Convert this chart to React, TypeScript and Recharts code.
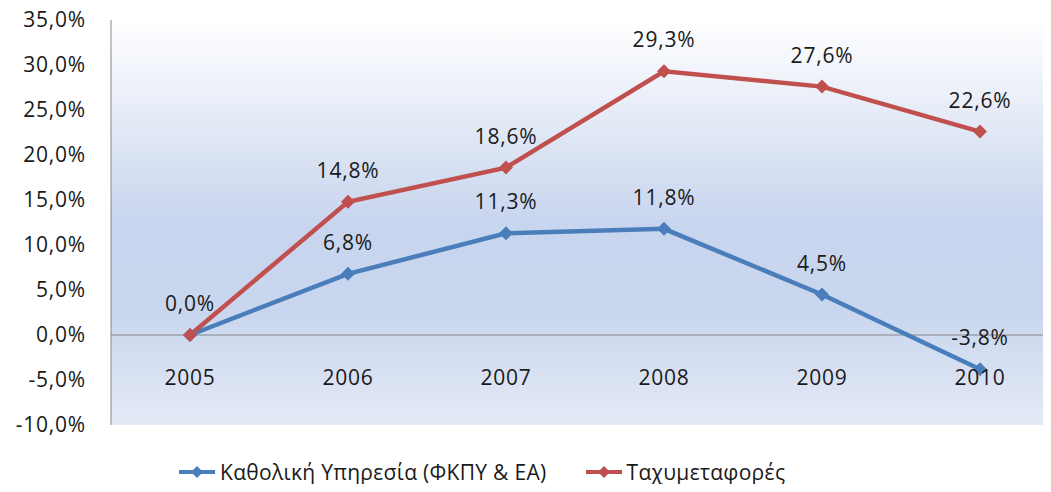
import React from "react";
import {
  LineChart,
  Line,
  XAxis,
  YAxis,
  CartesianGrid,
  ReferenceLine,
  LabelList,
  Legend,
} from "recharts";

const years = ["2005", "2006", "2007", "2008", "2009", "2010"];
const universalService = [0.0, 6.8, 11.3, 11.8, 4.5, -3.8];
const courier = [0.0, 14.8, 18.6, 29.3, 27.6, 22.6];
const yTicks = [-10, -5, 0, 5, 10, 15, 20, 25, 30, 35];

const BLUE_NAME = "Καθολική Υπηρεσία (ΦΚΠΥ & ΕΑ)";
const RED_NAME = "Ταχυμεταφορές";
const BLUE = "#4a7ebb";
const RED = "#c0504d";
const FONT = "'Open Sans', sans-serif";
const FS = 21;
const LS = 0.8;

const data = years.map((year, i) => ({
  year,
  blue: universalService[i],
  red: courier[i],
}));

const fmt = (v: number) => `${v.toFixed(1).replace(".", ",")}%`;

function Diamond(props: any) {
  const { cx, cy, fill } = props;
  if (cx == null || cy == null) return null;
  const r = 7;
  return (
    <path
      d={`M${cx},${cy - r}L${cx + r},${cy}L${cx},${cy + r}L${cx - r},${cy}Z`}
      fill={fill}
    />
  );
}

function XTick(props: any) {
  const { x, y, payload } = props;
  return (
    <text
      x={x}
      y={y - 56}
      textAnchor="middle"
      dominantBaseline="central"
      fontFamily={FONT}
      fontSize={FS}
      letterSpacing={LS}
      fill="#1a1a1a"
    >
      {payload.value}
    </text>
  );
}

// skip the label of the second series at 2005 (it overlaps the first)
const makeLabel = (skipFirst: boolean) => (props: any) => {
  const { x, y, value, index } = props;
  if (skipFirst && index === 0) return null;
  return (
    <text
      x={x}
      y={y - 32}
      textAnchor="middle"
      dominantBaseline="central"
      fontFamily={FONT}
      fontSize={FS}
      letterSpacing={LS}
      fill="#1a1a1a"
    >
      {fmt(value)}
    </text>
  );
};

function LegendContent() {
  const item = (color: string, label: string) => (
    <div style={{ display: "flex", alignItems: "center", marginRight: 38 }}>
      <svg width={38} height={14} style={{ marginRight: 4 }}>
        <line x1={1} y1={7} x2={37} y2={7} stroke={color} strokeWidth={4} />
        <path d="M19,1L25,7L19,13L13,7Z" fill={color} />
      </svg>
      <span>{label}</span>
    </div>
  );
  return (
    <div
      style={{
        display: "flex",
        paddingLeft: 178,
        paddingTop: 2,
        height: 30,
        alignItems: "center",
        fontFamily: FONT,
        fontSize: FS,
        letterSpacing: 0.3,
        color: "#1a1a1a",
      }}
    >
      {item(BLUE, BLUE_NAME)}
      {item(RED, RED_NAME)}
    </div>
  );
}

export default function App() {
  return (
    <div
      style={{
        margin: -8,
        width: 1051,
        height: 492,
        overflow: "hidden",
        background: "#fff",
        position: "relative",
      }}
    >
      <LineChart
        width={1060}
        height={492}
        data={data}
        margin={{ top: 20, right: 1, bottom: 5, left: 0 }}
      >
        <defs>
          <linearGradient id="plotBg" x1="0" y1="0" x2="0" y2="1">
            <stop offset="0%" stopColor="#ffffff" />
            <stop offset="50%" stopColor="#c8d5ee" />
            <stop offset="72%" stopColor="#c9d6ee" />
            <stop offset="100%" stopColor="#e4eaf6" />
          </linearGradient>
        </defs>
        <CartesianGrid
          horizontal={false}
          vertical={false}
          fill="url(#plotBg)"
          fillOpacity={1}
          stroke="none"
        />
        <XAxis
          dataKey="year"
          axisLine={false}
          tickLine={false}
          padding={{ left: 79, right: 79 }}
          tick={<XTick />}
          height={30}
          interval={0}
        />
        <YAxis
          domain={[-10, 35]}
          ticks={yTicks}
          tickFormatter={fmt}
          width={111}
          axisLine={{ stroke: "#868686" }}
          tickLine={false}
          tickSize={0}
          tickMargin={25}
          tick={{
            fontFamily: FONT,
            fontSize: FS,
            letterSpacing: LS,
            fill: "#1a1a1a",
          }}
          interval={0}
        />
        <ReferenceLine y={0} stroke="#868686" strokeWidth={1} />
        <Legend verticalAlign="bottom" content={<LegendContent />} />
        <Line
          type="linear"
          dataKey="blue"
          name={BLUE_NAME}
          stroke={BLUE}
          strokeWidth={4.5}
          dot={<Diamond fill={BLUE} />}
          activeDot={false}
          isAnimationActive={false}
        >
          <LabelList dataKey="blue" content={makeLabel(false)} />
        </Line>
        <Line
          type="linear"
          dataKey="red"
          name={RED_NAME}
          stroke={RED}
          strokeWidth={4.5}
          dot={<Diamond fill={RED} />}
          activeDot={false}
          isAnimationActive={false}
        >
          <LabelList dataKey="red" content={makeLabel(true)} />
        </Line>
      </LineChart>
    </div>
  );
}
